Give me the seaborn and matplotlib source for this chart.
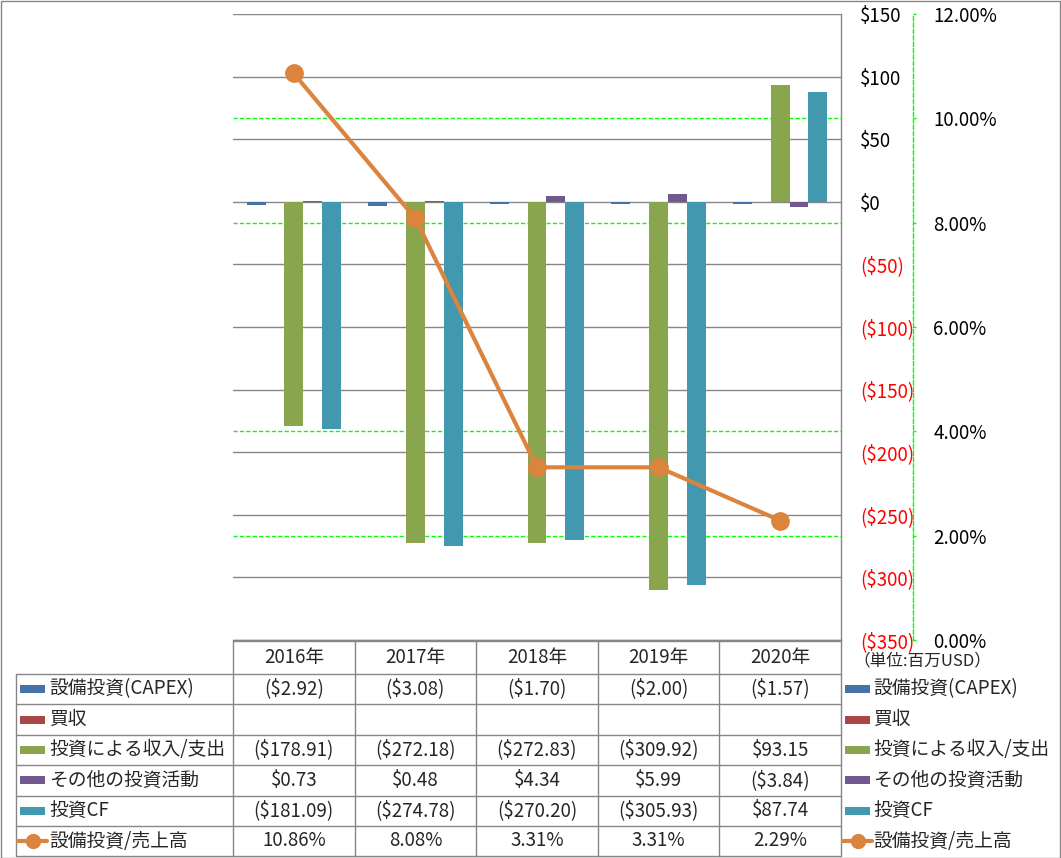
import numpy as np
import pandas as pd
import seaborn as sns
import matplotlib.pyplot as plt
import matplotlib.transforms as mtransforms
from matplotlib.lines import Line2D
from matplotlib.patches import Rectangle

# data (millions of USD)
years = ["2016年", "2017年", "2018年", "2019年", "2020年"]
series_names = ["設備投資(CAPEX)", "買収", "投資による収入/支出", "その他の投資活動", "投資CF"]
capex = [-2.92, -3.08, -1.70, -2.00, -1.57]
acquisitions = [np.nan, np.nan, np.nan, np.nan, np.nan]
invest_income = [-178.91, -272.18, -272.83, -309.92, 93.15]
other_invest = [0.73, 0.48, 4.34, 5.99, -3.84]
invest_cf = [-181.09, -274.78, -270.20, -305.93, 87.74]
ratio_name = "設備投資/売上高"
capex_ratio = [10.86, 8.08, 3.31, 3.31, 2.29]

bar_colors = ["#4572A7", "#AA4643", "#89A54E", "#71588F", "#4198AF"]
line_color = "#DB843D"
grid_gray = "#868686"
green = "#00FF00"

values = [capex, acquisitions, invest_income, other_invest, invest_cf]
rows = []
for name, vals in zip(series_names, values):
    for yr, v in zip(years, vals):
        rows.append({"year": yr, "series": name, "value": v})
df = pd.DataFrame(rows)

sns.set_theme(style="white")
plt.rcParams['font.family'] = ['Noto Sans CJK JP', 'DejaVu Sans']

W, H = 1061, 858
fig = plt.figure(figsize=(W / 100, H / 100), dpi=100)


def fx(x):
    return x / W


def fy(y):
    return 1 - y / H


left, right, top, bottom = 233, 841, 14, 640
ax_grid = fig.add_axes([fx(left), fy(bottom), fx(right - left), (bottom - top) / H])
ax = ax_grid.twinx()
ax_line = ax_grid.twinx()

# secondary axis (percent) with green dashed grid, drawn at the back
ax_grid.set_zorder(1)
ax.set_zorder(2)
ax_line.set_zorder(3)
ax.patch.set_visible(False)
ax_line.patch.set_visible(False)

# bars
sns.barplot(data=df, x="year", y="value", hue="series", hue_order=series_names,
            palette=bar_colors, saturation=1, width=0.775, gap=0, errorbar=None,
            linewidth=0, legend=False, ax=ax)
ax.set_xlim(-0.5, len(years) - 0.5)
ax.set_ylim(-350, 150)
ticks = list(range(-350, 151, 50))
labels = [f"${t}" if t >= 0 else f"(${-t})" for t in ticks]
ax.set_yticks(ticks, labels=labels)
for lbl, t in zip(ax.get_yticklabels(), ticks):
    lbl.set_color("red" if t < 0 else "black")
ax.yaxis.tick_right()
ax.tick_params(axis="y", length=0, pad=13.5, labelsize=13.5)
ax.tick_params(axis="x", length=0, labelbottom=False)
ax.set_xlabel("")
ax.set_ylabel("")
ax.grid(axis="y", color=grid_gray, lw=1.0)
ax.set_axisbelow(True)
for s in ["left", "top"]:
    ax.spines[s].set_visible(False)
for s in ["right", "bottom"]:
    ax.spines[s].set_color(grid_gray)
    ax.spines[s].set_linewidth(1.0)

ax_grid.set_xlim(-0.5, len(years) - 0.5)
ax_grid.set_ylim(0, 12)
pticks = list(range(0, 13, 2))
ax_grid.set_yticks(pticks, labels=[f"{p:.2f}%" for p in pticks])
ax_grid.yaxis.tick_right()
ax_grid.tick_params(axis="y", direction="out", length=2.5, width=1, color=green,
                    pad=12, labelsize=13.5, labelcolor="black")
ax_grid.tick_params(axis="x", length=0, labelbottom=False)
# green dashed grid, except where a gray grid line already runs
for p in pticks:
    if p not in (0, 6, 12):
        ax_grid.axhline(p, color=green, lw=1.0, ls=(0, (3, 1.6)))
for s in ["left", "top", "bottom"]:
    ax_grid.spines[s].set_visible(False)
ax_grid.spines["right"].set_position(("axes", (913 - left) / (right - left)))
ax_grid.spines["right"].set_color(green)
ax_grid.spines["right"].set_linestyle((0, (3, 1.6)))
ax_grid.spines["right"].set_linewidth(1.0)

# line on top
ax_line.plot(np.arange(len(years)), capex_ratio, color=line_color, lw=3,
             marker="o", ms=12.5, solid_capstyle="round")
ax_line.set_ylim(0, 12)
ax_line.set_yticks([])
for s in ax_line.spines.values():
    s.set_visible(False)

# data table
tcol = mtransforms.blended_transform_factory(ax.transData, fig.transFigure)
row_lines = [674, 704, 735, 765, 795.5, 826, 856]
row_centers = [(a + b) / 2 for a, b in zip(row_lines[:-1], row_lines[1:])]


def hline(x0, x1, y):
    fig.add_artist(Line2D([fx(x0), fx(x1)], [fy(y), fy(y)], color=grid_gray, lw=1.0))


hline(left, right, 641)
for y in row_lines:
    hline(16, right, y)
fig.add_artist(Line2D([fx(16), fx(16)], [fy(674), fy(856)], color=grid_gray, lw=1.0))
for k in range(len(years) + 1):
    fig.add_artist(Line2D([k - 0.5, k - 0.5], [fy(641), fy(856)], color=grid_gray,
                          lw=1.0, transform=tcol))

for i, yr in enumerate(years):
    fig.text(i, fy(658), yr, transform=tcol, ha="center", va="center", fontsize=13.5)


def money(v):
    if np.isnan(v):
        return ""
    return f"${v:.2f}" if v >= 0 else f"(${-v:.2f})"


table_rows = [[money(v) for v in vals] for vals in values]
table_rows.append([f"{v:.2f}%" for v in capex_ratio])
for r, cells in enumerate(table_rows):
    for i, txt in enumerate(cells):
        fig.text(i, fy(row_centers[r]), txt, transform=tcol, ha="center", va="center",
                 fontsize=13.5)

# legend keys on both sides of the table
all_names = series_names + [ratio_name]
for kx, tx in [(20, 49), (845, 873)]:
    for r, name in enumerate(all_names):
        yc = row_centers[r]
        if r < len(series_names):
            fig.add_artist(Rectangle((fx(kx), fy(yc + 4)), fx(25), 8 / H,
                                     color=bar_colors[r], lw=0))
        else:
            fig.add_artist(Line2D([fx(kx - 2), fx(kx + 27)], [fy(yc), fy(yc)],
                                  color=line_color, lw=3))
            fig.add_artist(Line2D([fx(kx + 12.5)], [fy(yc)], color=line_color,
                                  marker="o", ms=10, lw=0))
        fig.text(fx(tx), fy(yc), name, ha="left", va="center", fontsize=13.5)

fig.text(fx(853), fy(661), "（単位:百万USD）", ha="left", va="center", fontsize=12)

# outer frame
fig.add_artist(Rectangle((fx(0.5), fy(857.5)), fx(1059), 857 / H, fill=False,
                         edgecolor=grid_gray, lw=1.0))

fig.savefig("out.png", dpi=100)
